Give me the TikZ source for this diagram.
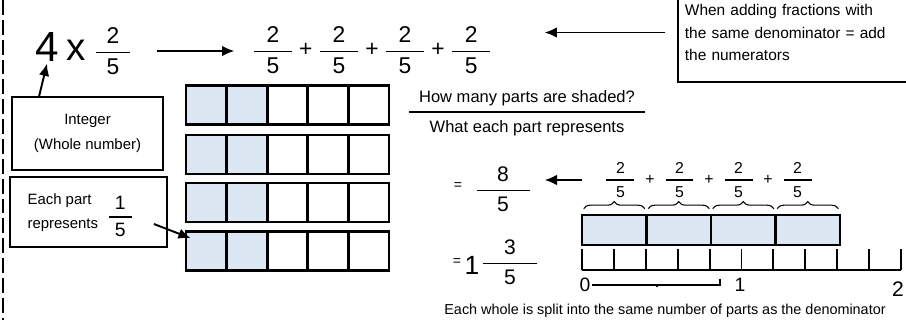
\documentclass[tikz,border=0pt]{standalone}
\usepackage{amsmath}
\usepackage{fontspec}
\setmainfont{Liberation Sans}
\usetikzlibrary{arrows.meta,positioning,calc,decorations.pathreplacing}
\definecolor{partblue}{RGB}{221,231,244}
\setlength{\arrayrulewidth}{0.9pt}
\newcommand{\fr}[3]{$\genfrac{}{}{1pt}{0}{\makebox[#1]{#2}}{\text{#3}}$}

\begin{document}
\begin{tikzpicture}[
    x=0.02cm, y=-0.02cm,
    >={Latex[length=7pt,width=6pt]},
    txt/.style={font=\fontsize{8}{14}\selectfont, align=center, inner sep=1pt},
    box/.style={draw, line width=1pt, align=center, font=\fontsize{8.5}{14}\selectfont},
    cell/.style={draw, line width=1.5pt, minimum width=0.812cm, minimum height=0.78cm, inner sep=0pt},
    arr/.style={->, line width=1.1pt}
]
    \clip (0,0) rectangle (906,320);
    \draw[line width=1.2pt, dash pattern=on 8.5pt off 2.8pt] (3,0) -- (3,320);

    \node[font=\fontsize{24}{24}\selectfont, inner sep=1pt] (four) at (47,47) {4};
    \node[font=\fontsize{22}{24}\selectfont, inner sep=1pt] (times) at (76,50) {x};
    \node[font=\fontsize{13}{15}\selectfont, inner sep=0pt] (twofifths) at (113,51) {\fr{0.7cm}{2}{5}};
    \node[font=\fontsize{13}{15}\selectfont, inner sep=0pt] (sum) at (372,50)
        {\fr{0.76cm}{2}{5}\hspace{3pt}+\hspace{3pt}\fr{0.76cm}{2}{5}\hspace{3pt}+\hspace{3pt}\fr{0.76cm}{2}{5}\hspace{3pt}+\hspace{3pt}\fr{0.76cm}{2}{5}};
    \draw[arr, shorten <=0.48cm, shorten >=0.34cm] (twofifths.east) -- (twofifths.east -| sum.west);

    \node[box, anchor=south west, text width=4.5cm, align=left, font=\fontsize{8.8}{13}\selectfont, inner xsep=4pt, inner ysep=12pt] (rule) at (677,83)
        {When adding fractions with\\the same denominator = add\\the numerators};
    \draw[arr, shorten <=0.24cm, shorten >=1.04cm] (rule.west) -- (rule.west -| sum.east);

    \node[box, minimum width=3.02cm, minimum height=1.46cm] (integer) at (87.5,133.5) {Integer\\(Whole number)};
    \draw[arr] ([xshift=0.56cm]integer.north west) -- (four.south);

    \node[box, minimum width=3.14cm, minimum height=1.4cm] (eachpart) at (88.5,212)
        {\begin{tabular}{@{}l@{}}Each part\\represents\end{tabular}\hspace{5pt}\raisebox{-4pt}{\fontsize{11}{13}\selectfont\fr{0.45cm}{1}{5}}\hspace{9pt}};

    \foreach \r/\y in {1/105,2/154.5,3/202.5,4/251} {
        \foreach \c/\f in {1/partblue,2/partblue,3/white,4/white,5/white} {
            \node[cell, fill=\f] (c\r\c) at ({186+40.6*(\c-0.5)},\y) {};
        }
    }
    \draw[arr] ([shift={(-14,12)}]eachpart.east) -- ([shift={(6,8)}]c41.north west);

    \node[font=\fontsize{9.4}{16}\selectfont, inner sep=0pt] (question) at (527,112)
        {\begin{tabular}{c}How many parts are shaded?\\\hline What each part represents\end{tabular}};

    \node[font=\fontsize{8}{10}\selectfont, inner sep=1pt] (eq1) at (458,186) {=};
    \node[font=\fontsize{12}{14}\selectfont, inner sep=1pt] (eightfifths) at (503,189) {\fr{1.06cm}{8}{5}};
    \node[font=\fontsize{9}{11}\selectfont, inner sep=1pt] (ssum) at (709,180)
        {\fr{0.56cm}{2}{5}\hspace{5pt}+\hspace{5pt}\fr{0.56cm}{2}{5}\hspace{5pt}+\hspace{5pt}\fr{0.56cm}{2}{5}\hspace{5pt}+\hspace{5pt}\fr{0.56cm}{2}{5}};
    \draw[arr, shorten <=0.4cm, shorten >=0.22cm] (ssum.west) -- (ssum.west -| eightfifths.east);

    \node[font=\fontsize{8}{10}\selectfont, inner sep=1pt] (eq2) at (457,262) {=};
    \node[font=\fontsize{15}{17}\selectfont, inner sep=1pt] (whole) at (472,265) {1};
    \node[font=\fontsize{12}{14}\selectfont, inner sep=1pt] (mixed) at (510,262) {\fr{1.08cm}{3}{5}};

    \foreach \c in {1,...,4} {
        \node[cell, fill=partblue, minimum width=1.29cm, minimum height=0.6cm] (p\c) at ({582+64.5*(\c-0.5)},230) {};
        \draw[line width=0.6pt, decorate, decoration={brace, amplitude=4pt}]
            ([shift={(3,-5)}]p\c.north west) -- ([shift={(-3,-5)}]p\c.north east);
    }

    \draw[line width=1.1pt] (582,270) -- (901,270);
    \foreach \i in {0,...,10}
        \draw[line width=1.1pt] ({582+31.9*\i},249) -- ({582+31.9*\i},270);
    \node[font=\fontsize{11}{13}\selectfont, inner sep=1pt] (lab0) at (585,285) {0};
    \node[font=\fontsize{11}{13}\selectfont, inner sep=1pt] (lab1) at (740,285) {1};
    \node[font=\fontsize{12}{15}\selectfont, inner sep=1pt] (lab2) at (898,289) {2};
    \coordinate (segend) at (720,284);
    \draw[line width=0.6pt] (lab0.east) -- (lab0.east -| segend);
    \draw[line width=0.6pt] ([yshift=3pt]segend) -- ([yshift=-1pt]segend);
    \draw[line width=0.6pt] (657,284) -- (657,287);

    \node[txt, font=\fontsize{8.2}{10}\selectfont] (split) at (665,311)
        {Each whole is split into the same number of parts as the denominator};
\end{tikzpicture}
\end{document}
